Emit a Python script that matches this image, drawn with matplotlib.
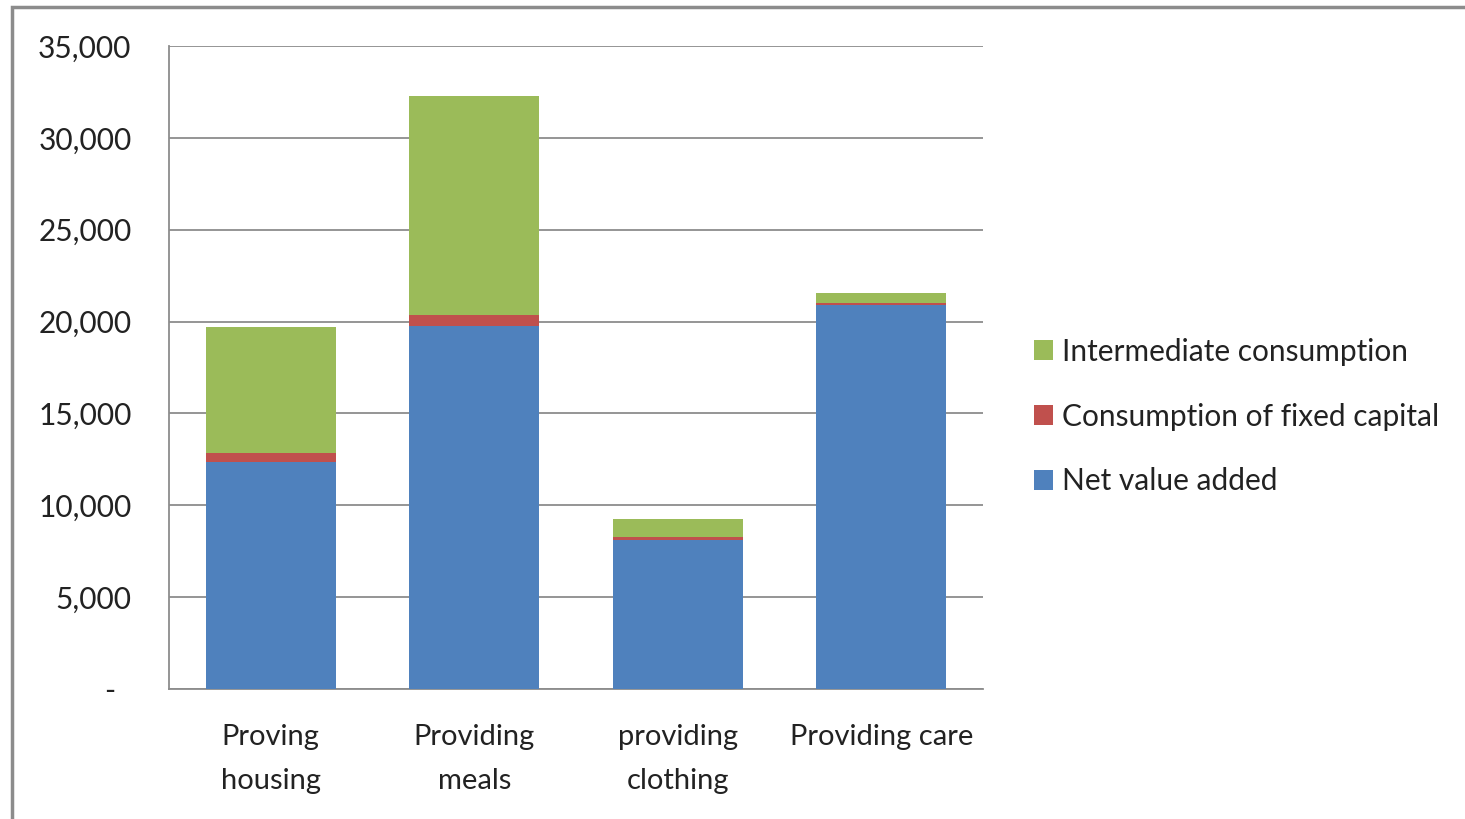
import matplotlib
matplotlib.use("Agg")
import matplotlib.pyplot as plt
from matplotlib.patches import Rectangle, Patch
from matplotlib.ticker import FuncFormatter

categories = ["Proving\nhousing", "Providing\nmeals", "providing\nclothing", "Providing care"]
net_value_added = [12350, 19750, 8100, 20900]
consumption_fixed_capital = [500, 600, 170, 110]
intermediate_consumption = [6850, 11950, 980, 550]
series_names = ["Net value added", "Consumption of fixed capital", "Intermediate consumption"]
colors = ["#4F81BD", "#C0504D", "#9BBB59"]

plt.rcParams['font.family'] = ['Lato', 'DejaVu Sans']

W, H = 1465, 819
fig = plt.figure(figsize=(W/100, H/100), dpi=100)
fig.patch.set_facecolor("white")

# outer frame
fig.add_artist(Rectangle((12/W, -0.01), 1.2, 1 - 7/H + 0.01, transform=fig.transFigure,
                         fill=False, edgecolor="#8c8c8c", linewidth=2.5))

ax = fig.add_axes([169/W, 1 - 689/H, (983-169)/W, (689-46)/H])
x = list(range(len(categories)))
width = 0.64
bottom2 = [a + b for a, b in zip(net_value_added, consumption_fixed_capital)]
ax.bar(x, net_value_added, width, color=colors[0], zorder=3)
ax.bar(x, consumption_fixed_capital, width, bottom=net_value_added, color=colors[1], zorder=3)
ax.bar(x, intermediate_consumption, width, bottom=bottom2, color=colors[2], zorder=3)

ax.set_xlim(-0.5, 3.5)
ax.set_ylim(0, 35000)
ax.set_yticks(range(0, 35001, 5000))
ax.yaxis.set_major_formatter(FuncFormatter(lambda v, p: "-  " if v == 0 else f"{int(v):,}"))
ax.set_xticks(x)
ax.set_xticklabels(categories, fontsize=21, color="#222222", linespacing=1.82)
ax.tick_params(axis='y', labelsize=21.5, colors="#222222", length=0, pad=27)
ax.tick_params(axis='x', length=0, pad=25.5)
for lbl in ax.get_yticklabels():
    lbl.set_horizontalalignment('right')
ax.grid(axis='y', color="#8c8c8c", linewidth=1.3, zorder=0)
for s in ['top', 'right']:
    ax.spines[s].set_visible(False)
ax.spines['left'].set_color("#8c8c8c")
ax.spines['bottom'].set_color("#8c8c8c")
ax.spines['left'].set_linewidth(1.3)
ax.spines['bottom'].set_linewidth(1.3)

handles = [Patch(facecolor=colors[i], edgecolor='none') for i in [2, 1, 0]]
labels = [series_names[i] for i in [2, 1, 0]]
fig.legend(handles, labels, loc='upper left', bbox_to_anchor=(1022/W, 1 - 326/H),
           frameon=False, fontsize=21.5, handlelength=0.65, handleheight=0.65,
           handletextpad=0.3, labelspacing=1.23, labelcolor="#222222",
           borderaxespad=0, borderpad=0.4)

fig.savefig("out.png", dpi=100)
